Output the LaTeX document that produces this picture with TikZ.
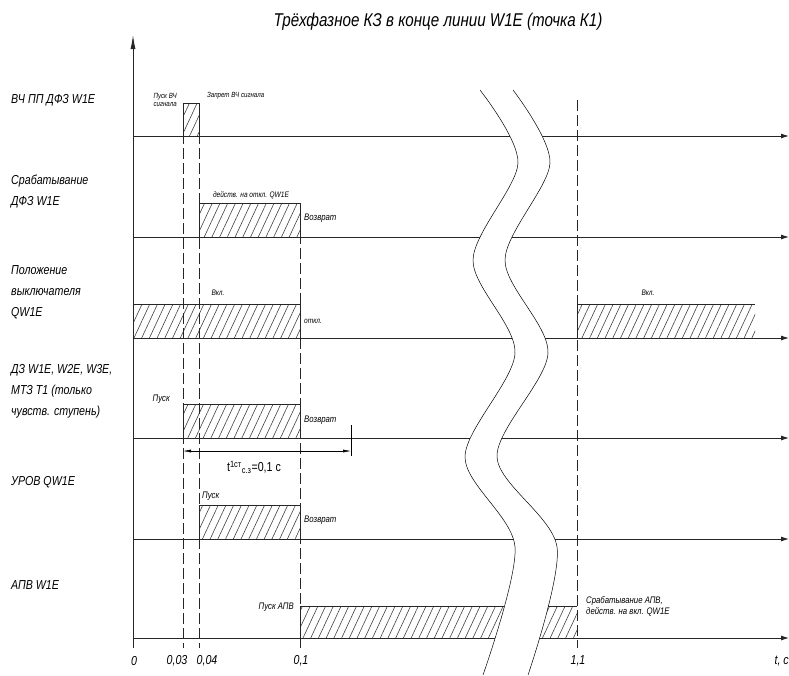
\documentclass[tikz,border=0pt]{standalone}
\usepackage{fontspec}
\setmainfont{Liberation Sans}[FakeStretch=0.82]
\usepackage{xcolor}
\usepackage{tikz}
\usetikzlibrary{arrows.meta,patterns.meta,positioning,calc}

\begin{document}
\begin{tikzpicture}[x=1pt,y=-1pt,
		axisline/.style={line width=0.9pt,black!85},
		timeline/.style={line width=0.6pt,black!85,dash pattern=on 11pt off 4pt},
		hatchbox/.style={pattern={Lines[angle=65,distance=7pt,line width=0.6pt]},pattern color=black!75},
		boxline/.style={line width=0.6pt,black!85},
		rowname/.style={font=\itshape\fontsize{13}{21}\selectfont,anchor=west,align=left,inner sep=0pt},
		note/.style={font=\itshape\fontsize{8}{10}\selectfont,inner sep=0pt,align=left},
		bignote/.style={font=\itshape\fontsize{9.5}{11}\selectfont,inner sep=0pt,align=left},
		tinynote/.style={font=\itshape\fontsize{7.5}{8}\selectfont,inner sep=0pt,align=left},
		ticklabel/.style={font=\itshape\fontsize{13}{15}\selectfont,inner sep=0pt}]

		\useasboundingbox (0,0) rectangle (789,675);

		\fill[hatchbox] (183,103) rectangle (199,136);
		\draw[boxline] (183,136) |- (199,103) -- (199,136);

		\fill[hatchbox] (199,203) rectangle (300,237);
		\draw[boxline] (199,237) |- (300,203) -- (300,237);

		\fill[hatchbox] (133,304) rectangle (300,338);
		\draw[boxline] (133,304) -| (300,338);

		\fill[hatchbox] (577,304) rectangle (755,338);
		\draw[boxline] (577,338) |- (755,304);

		\fill[hatchbox] (183,404) rectangle (300,438);
		\draw[boxline] (183,438) |- (300,404) -- (300,438);

		\fill[hatchbox] (199,505) rectangle (300,539);
		\draw[boxline] (199,539) |- (300,505) -- (300,539);

		\fill[hatchbox] (300,606) rectangle (577,638);
		\draw[boxline] (300,638) |- (577,606);

		\foreach \y in {136,237,338,438,539,638}
			\draw[axisline,-{Latex[length=8pt,width=5pt]}] (133,\y) -- (789,\y);

		\draw[axisline,-{Latex[length=14pt,width=5pt]}] (133,648) -- (133,35);

		\draw[timeline] (183,103) -- (183,648);
		\draw[timeline] (199,103) -- (199,648);
		\draw[timeline] (300,203) -- (300,648);
		\draw[timeline] (577,100) -- (577,648);

		\fill[white] plot[smooth] coordinates {(480,90) (518,163) (473,260) (515,353) (465,457) (515,547) (483,675)}
			-- plot[smooth] coordinates {(528,675) (557,547) (497,457) (548,353) (505,260) (550,163) (513,90)} -- cycle;
		\draw[line width=0.5pt] plot[smooth] coordinates {(480,90) (518,163) (473,260) (515,353) (465,457) (515,547) (483,675)};
		\draw[line width=0.5pt] plot[smooth] coordinates {(513,90) (550,163) (505,260) (548,353) (497,457) (557,547) (528,675)};

		\coordinate (dimA) at (183,451);
		\coordinate (dimB) at (351,451);
		\draw[line width=0.5pt] (351,425) -- (351,456);
		\draw[line width=0.5pt,{Latex[length=8pt,width=3pt]}-{Latex[length=8pt,width=3pt]}] (dimA) -- (dimB);
		\node[font=\fontsize{13}{15}\selectfont,inner sep=0pt] (tcz) at (254,467) {t\textsuperscript{1ст}\textsubscript{с.з}=0,1 с};

		\node[font=\itshape\fontsize{18.5}{20}\selectfont] (title) at (438,22) {Трёхфазное КЗ в конце линии W1E (точка К1)};

		\node[rowname] (rvch) at (11,100) {ВЧ ПП ДФЗ W1E};
		\node[rowname] (rdfz) at (11,192) {Срабатывание\\ДФЗ W1E};
		\node[rowname] (rqw) at (11,292) {Положение\\выключателя\\QW1E};
		\node[rowname] (rdz) at (11,391) {ДЗ W1E, W2E, W3E,\\МТЗ Т1 (только\\чувств. ступень)};
		\node[rowname] (rurov) at (11,482) {УРОВ QW1E};
		\node[rowname] (rapv) at (11,585) {АПВ W1E};

		\node[tinynote,anchor=east] (vchstart) at (177,100) {Пуск ВЧ\\сигнала};
		\node[tinynote,anchor=west] (vchstop) at (207,96) {Запрет ВЧ сигнала};

		\node[note,anchor=south] (dfzoff) at (251,199) {действ. на откл. QW1E};
		\node[bignote,anchor=west] (dfzret) at (304,218) {Возврат};

		\node[note] (qwon) at (218,293) {Вкл.};
		\node[note,anchor=west] (qwoff) at (304,321) {откл.};
		\node[note] (qwon2) at (648,293) {Вкл.};

		\node[bignote,anchor=east] (dzstart) at (170,399) {Пуск};
		\node[bignote,anchor=west] (dzret) at (304,420) {Возврат};

		\node[bignote,anchor=west] (urovstart) at (202,496) {Пуск};
		\node[bignote,anchor=west] (urovret) at (304,520) {Возврат};

		\node[bignote,anchor=east] (apvstart) at (294,607) {Пуск АПВ};
		\node[bignote,anchor=west] (apvact) at (586,606) {Срабатывание АПВ,\\действ. на вкл. QW1E};

		\node[ticklabel] (tk0) at (134,661) {0};
		\node[ticklabel] (tk003) at (177,661) {0,03};
		\node[ticklabel] (tk004) at (207,661) {0,04};
		\node[ticklabel] (tk01) at (301,661) {0,1};
		\node[ticklabel] (tk11) at (578,661) {1,1};
		\node[ticklabel,anchor=east] (tkt) at (789,661) {t, с};
	\end{tikzpicture}
\end{document}
